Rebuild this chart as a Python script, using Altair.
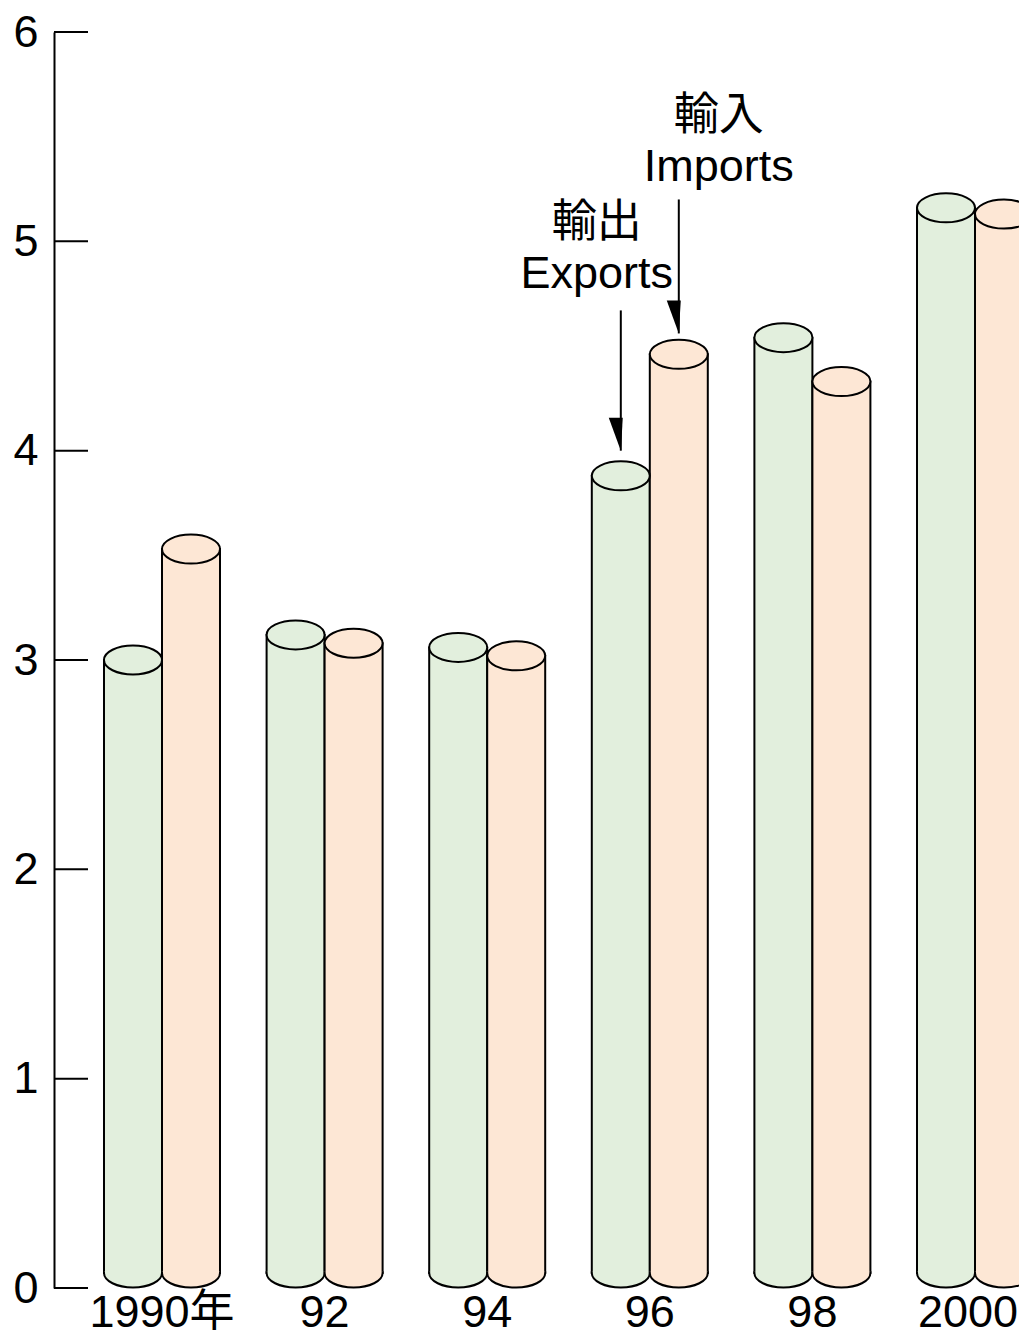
import altair as alt
import pandas as pd

FONT = "Liberation Sans, Noto Sans CJK JP"

# ---- data ----
years = ["1990年", "92", "94", "96", "98", "2000"]
series = ["Exports", "Imports"]
exports = [3.00, 3.12, 3.06, 3.88, 4.54, 5.16]
imports = [3.53, 3.08, 3.02, 4.46, 4.33, 5.13]
colors = ["#e2efdd", "#fde7d5"]
y_ticks = [0, 1, 2, 3, 4, 5, 6]

ann_year = "96"
ann_series = ["Exports", "Imports"]
ann_text = ["輸出\nExports", "輸入\nImports"]
ann_start = [4.67, 5.20]
ann_tip = [4.00, 4.56]
ann_dx = [-24, 40]
ann_dy = [-73, -69]

rows = []
for y, e, i in zip(years, exports, imports):
    rows.append({"year": y, "series": "Exports", "value": e, "zero": 0})
    rows.append({"year": y, "series": "Imports", "value": i, "zero": 0})
df = pd.DataFrame(rows)

ticks_df = pd.DataFrame({"value": y_ticks})
ann_df = pd.DataFrame({
    "year": [ann_year] * 2,
    "series": ann_series,
    "text": ann_text,
    "start": ann_start,
    "tip": ann_tip,
})

ELLIPSE = "M-1,0A1,0.5,0,1,0,1,0A1,0.5,0,1,0,-1,0Z"
BOTTOM_HALF = "M-1,-0.06L-1,0A1,0.5,0,0,0,1,0L1,-0.06"
ARROW = "M-0.73,-2L0.12,-2L0,0Z"

x_enc = alt.X(
    "year:N", sort=years,
    scale=alt.Scale(range=[0, 1029], paddingInner=0.2866, paddingOuter=0.3075),
    axis=alt.Axis(title=None, domain=False, ticks=False, tickSize=0, labelAngle=0,
                  labelFontSize=45, labelFont=FONT, labelColor="black",
                  labelPadding=2, grid=False,
                  labelOffset={"condition": {"test": "datum.value === '2000'",
                                             "value": -7}, "value": 0}),
)
xo_enc = alt.XOffset("series:N", sort=series,
                     scale=alt.Scale(paddingInner=0, paddingOuter=0))
y_scale = alt.Scale(domain=[0, 6], nice=False, zero=True)
y_axis = alt.Axis(title=None, values=y_ticks, tickSize=0, ticks=False,
                  domainColor="black", domainWidth=2, labelFontSize=45,
                  labelFont=FONT, labelColor="black", labelPadding=16, grid=False)
fill_enc = alt.Fill("series:N", sort=series,
                    scale=alt.Scale(domain=series, range=colors), legend=None)


def yq(field):
    return alt.Y(field, type="quantitative", scale=y_scale, axis=y_axis)


base = alt.Chart(df)

body = base.mark_rect(stroke="black", strokeWidth=2, y2Offset=-15).encode(
    x=x_enc, xOffset=xo_enc,
    y=yq("value"),
    y2=alt.Y2("zero"),
    fill=fill_enc,
)

bottom = base.mark_point(shape=BOTTOM_HALF, size=58 * 58, filled=True,
                         stroke="black", strokeWidth=2, opacity=1,
                         yOffset=-15).encode(
    x=x_enc, xOffset=xo_enc,
    y=yq("zero"),
    fill=fill_enc,
)

top = base.mark_point(shape=ELLIPSE, size=58 * 58, filled=True,
                      stroke="black", strokeWidth=2, opacity=1).encode(
    x=x_enc, xOffset=xo_enc,
    y=yq("value"),
    fill=fill_enc,
)

tick_rules = alt.Chart(ticks_df).mark_rule(color="black", strokeWidth=2).encode(
    y=yq("value"),
    x=alt.value(0), x2=alt.value(34),
)

ann = alt.Chart(ann_df)
arrow_lines = ann.mark_rule(color="black", strokeWidth=2).encode(
    x=x_enc, xOffset=xo_enc,
    y=yq("start"),
    y2="tip:Q",
)
arrow_heads = ann.mark_point(shape=ARROW, size=33 * 33, filled=True,
                             color="black", opacity=1, strokeWidth=0).encode(
    x=x_enc, xOffset=xo_enc,
    y=yq("tip"),
)

texts = []
for s, dx, dy in zip(ann_series, ann_dx, ann_dy):
    texts.append(
        ann.transform_filter(alt.datum.series == s).mark_text(
            align="center", baseline="alphabetic", fontSize=45, font=FONT,
            color="black", lineBreak="\n", lineHeight=51, dx=dx, dy=dy,
        ).encode(
            x=x_enc, xOffset=xo_enc,
            y=yq("start"),
            text="text:N",
        )
    )

chart = alt.layer(body, bottom, top, tick_rules, arrow_lines, arrow_heads, *texts).properties(
    width=965, height=1256,
    autosize=alt.AutoSizeParams(type="none"),
    padding={"left": 46, "top": 24, "right": 0, "bottom": 42},
).configure(background="white").configure_view(stroke="transparent", strokeWidth=0)

chart.save("out.html", embed_options={"renderer": "svg", "actions": False})
